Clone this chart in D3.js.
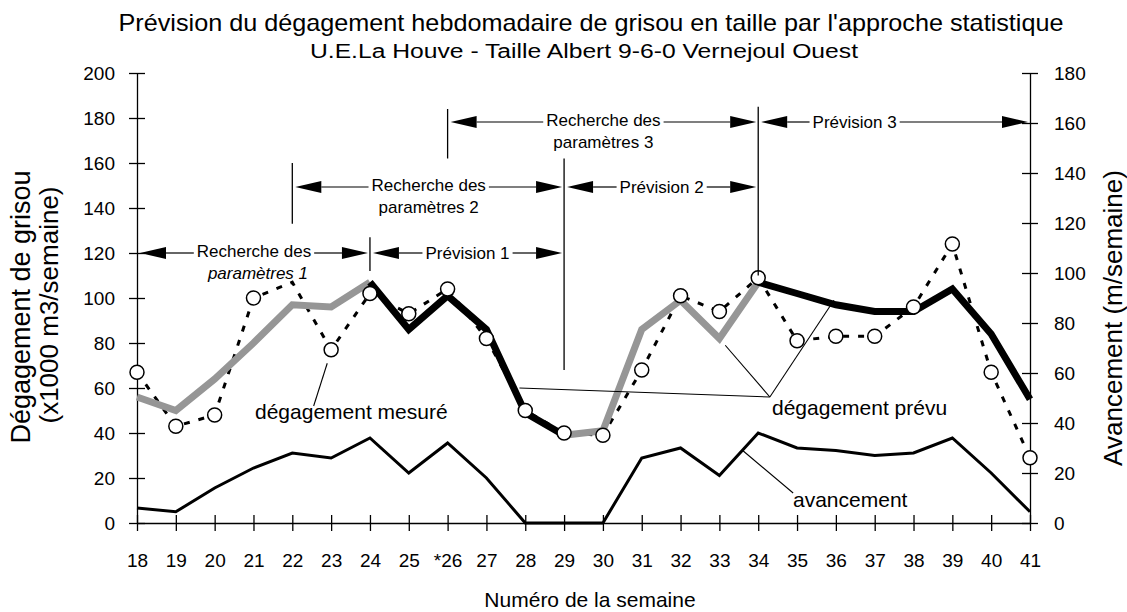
<!DOCTYPE html>
<html>
<head>
  <meta charset="utf-8">
  <title>Grisou</title>
  <script src="https://d3js.org/d3.v7.min.js"></script>
  <style>
    body { margin: 0; background: #fff; }
    text { font-family: "Liberation Sans", Arial, sans-serif; fill: #000; }
    .axis path, .axis line { stroke: #000; stroke-width: 1.3; }
  </style>
</head>
<body>
  <svg id="chart" width="1127" height="612"></svg>
  <script>
    // weekly data, weeks 18..41
    const weeks = d3.range(18, 42);
    const weekLabels = ["18","19","20","21","22","23","24","25","*26","27","28","29",
                        "30","31","32","33","34","35","36","37","38","39","40","41"];
    const measured  = [67,43,48,100,107,77,102,93,104,82,50,40,39,68,101,94,109,81,83,83,96,124,67,29];
    const noMarker  = [22];
    const predicted = [56,50,64,80,97,96,107,86,101,86,49,39,41,86,99,82,107,102,97,94,94,104,84,55];
    const advance   = [6,4.5,14,22,28,26,34,20,32,18,0,0,0,26,30,19,36,30,29,27,28,34,20,4.5];
    const calibSpans    = [[18,24],[29,34]];
    const forecastSpans = [[24,29],[34,41]];
    const leftTicks  = d3.range(0, 201, 20);
    const rightTicks = d3.range(0, 181, 20);
    const phases = [
      {lines: ["Recherche des", "paramètres 1"], from: 18, to: 24, row: 2, italic: true},
      {lines: ["Prévision 1"], from: 24, to: 29, row: 2},
      {lines: ["Recherche des", "paramètres 2"], from: 22, to: 29, row: 1},
      {lines: ["Prévision 2"], from: 29, to: 34, row: 1},
      {lines: ["Recherche des", "paramètres 3"], from: 26, to: 34, row: 0},
      {lines: ["Prévision 3"], from: 34, to: 41, row: 0, shift: -40}
    ];

    const svg = d3.select("svg#chart");
    const margin = {top: 73, right: 97, bottom: 89, left: 137};
    const width = +svg.attr("width");
    const height = +svg.attr("height");
    const chartWidth = width - margin.left - margin.right;
    const chartHeight = height - margin.top - margin.bottom;

    const x = d3.scaleLinear().domain([18, 41]).range([margin.left, margin.left + chartWidth]);
    const yL = d3.scaleLinear().domain([0, 200]).range([margin.top + chartHeight, margin.top]);
    const yR = d3.scaleLinear().domain([0, 180]).range([margin.top + chartHeight, margin.top]);

    // titles
    svg.append("text").attr("x", 591).attr("y", 31).attr("text-anchor", "middle")
      .attr("textLength", 945).attr("lengthAdjust", "spacingAndGlyphs")
      .style("font-size", "24px").text("Prévision du dégagement hebdomadaire de grisou en taille par l'approche statistique");
    svg.append("text").attr("x", 584).attr("y", 58).attr("text-anchor", "middle")
      .attr("textLength", 548).attr("lengthAdjust", "spacingAndGlyphs")
      .style("font-size", "20px").text("U.E.La Houve - Taille Albert 9-6-0 Vernejoul Ouest");

    // axes
    const tickFont = g => g.selectAll(".tick text").style("font-size", "19px").style("font-family", "Liberation Sans, Arial");
    const leftAxis = d3.axisLeft(yL).tickValues(leftTicks).tickSize(8).tickSizeOuter(0).tickPadding(14);
    svg.append("g").attr("class", "axis").attr("transform", "translate(" + margin.left + ",0)")
      .call(leftAxis)
      .call(g => g.selectAll(".tick line").attr("x1", -8).attr("x2", 8))
      .call(tickFont);

    const rightAxis = d3.axisRight(yR).tickValues(rightTicks).tickSize(8).tickSizeOuter(0).tickPadding(16);
    svg.append("g").attr("class", "axis").attr("transform", "translate(" + (margin.left + chartWidth) + ",0)")
      .call(rightAxis)
      .call(g => g.selectAll(".tick line").attr("x1", -8).attr("x2", 8))
      .call(tickFont);

    const bottomAxis = d3.axisBottom(x).tickValues(weeks).tickFormat((d, i) => weekLabels[i])
      .tickSize(8).tickSizeOuter(0).tickPadding(23);
    svg.append("g").attr("class", "axis").attr("transform", "translate(0," + (margin.top + chartHeight) + ")")
      .call(bottomAxis)
      .call(g => g.selectAll(".tick line").attr("y1", -8).attr("y2", 8))
      .call(tickFont);

    // axis titles
    svg.append("text").attr("transform", "translate(30,307) rotate(-90)").attr("text-anchor", "middle")
      .style("font-size", "27px").text("Dégagement de grisou");
    svg.append("text").attr("transform", "translate(58,305) rotate(-90)").attr("text-anchor", "middle")
      .style("font-size", "26px").text("(x1000 m3/semaine)");
    svg.append("text").attr("transform", "translate(1122,318) rotate(-90)").attr("text-anchor", "middle")
      .style("font-size", "26px").text("Avancement (m/semaine)");
    svg.append("text").attr("x", 590).attr("y", 607).attr("text-anchor", "middle")
      .style("font-size", "21px").text("Numéro de la semaine");

    const rows = weeks.map((w, i) => ({w: w, m: measured[i], p: predicted[i], a: advance[i]}));

    // avancement (right axis)
    svg.append("path").datum(rows)
      .attr("fill", "none").attr("stroke", "#000").attr("stroke-width", 3).attr("stroke-linejoin", "miter")
      .attr("d", d3.line().x(d => x(d.w)).y(d => yR(d.a)));

    // measured, dashed
    svg.append("path").datum(rows)
      .attr("fill", "none").attr("stroke", "#000").attr("stroke-width", 3).attr("stroke-dasharray", "6,9")
      .attr("d", d3.line().x(d => x(d.w)).y(d => yL(d.m)));

    // predicted: gray in calibration, black in forecast
    const predLine = d3.line().x(d => x(d.w)).y(d => yL(d.p));
    calibSpans.forEach(s => {
      svg.append("path").datum(rows.filter(d => d.w >= s[0] && d.w <= s[1]))
        .attr("fill", "none").attr("stroke", "#969696").attr("stroke-width", 7).attr("d", predLine);
    });
    forecastSpans.forEach(s => {
      svg.append("path").datum(rows.filter(d => d.w >= s[0] && d.w <= s[1]))
        .attr("fill", "none").attr("stroke", "#000").attr("stroke-width", 7).attr("d", predLine);
    });

    svg.selectAll("circle.pt").data(rows.filter(d => noMarker.indexOf(d.w) < 0))
      .join("circle").attr("class", "pt")
      .attr("cx", d => x(d.w)).attr("cy", d => yL(d.m)).attr("r", 7)
      .attr("fill", "#fff").attr("stroke", "#000").attr("stroke-width", 1.5);

    // phase dividers
    const dividers = [[22, 133, 160], [24, 112, 127], [26, 162, 184], [29, 68, 162], [34, 110, 185]];
    dividers.forEach(v => {
      svg.append("line").attr("x1", x(v[0])).attr("x2", x(v[0]))
        .attr("y1", yL(v[1])).attr("y2", yL(v[2])).attr("stroke", "#000").attr("stroke-width", 1.3);
    });

    // phase arrows
    const rowY = [122, 187, 253];
    function head(tipX, y, dir) {
      const L = 26, h = 6;
      svg.append("path")
        .attr("d", "M" + tipX + "," + y + "L" + (tipX + dir * L) + "," + (y - h) + "L" + (tipX + dir * L) + "," + (y + h) + "Z")
        .attr("fill", "#000");
    }
    phases.forEach(p => {
      const y = rowY[p.row];
      const x1 = x(p.from) + 3, x2 = x(p.to) - 2;
      const cx = (x1 + x2) / 2 + (p.shift || 0);
      const two = p.lines.length > 1;
      const t = svg.append("text").attr("x", cx).attr("y", two ? y + 4 : y + 6)
        .attr("text-anchor", "middle").style("font-size", "17px").text(p.lines[0]);
      if (two) {
        svg.append("text").attr("x", cx + (p.italic ? 4 : 0)).attr("y", y + 26)
          .attr("text-anchor", "middle").style("font-size", "17px")
          .style("font-style", p.italic ? "italic" : "normal").text(p.lines[1]);
      }
      const tw = t.node().getComputedTextLength();
      head(x1, y, 1);
      head(x2, y, -1);
      svg.append("line").attr("x1", x1 + 26).attr("x2", cx - tw / 2 - 3).attr("y1", y).attr("y2", y)
        .attr("stroke", "#000").attr("stroke-width", 1.2);
      svg.append("line").attr("x1", cx + tw / 2 + 3).attr("x2", x2 - 26).attr("y1", y).attr("y2", y)
        .attr("stroke", "#000").attr("stroke-width", 1.2);
    });

    // labels with leader lines
    function leader(ax, ay, bx, by) {
      svg.append("line").attr("x1", ax).attr("y1", ay).attr("x2", bx).attr("y2", by)
        .attr("stroke", "#000").attr("stroke-width", 1.1);
    }
    svg.append("text").attr("x", 255).attr("y", 419).style("font-size", "21px").text("dégagement mesuré");
    leader(x(22.9), yL(71), x(22.55), yL(52));

    svg.append("text").attr("x", 772).attr("y", 415).style("font-size", "21px").text("dégagement prévu");
    leader(x(27.85), yL(60), x(34.3), yL(56));
    leader(x(33.15), yL(79), x(34.3), yL(56));
    leader(x(35.95), yL(99), x(34.3), yL(56));

    svg.append("text").attr("x", 793).attr("y", 507).style("font-size", "21px").text("avancement");
    leader(x(33.6), yR(29), x(34.9), yR(12));
  </script>
</body>
</html>
